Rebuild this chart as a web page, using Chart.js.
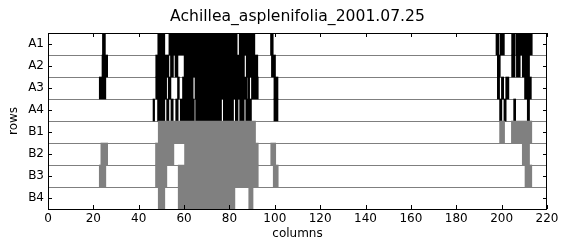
<!doctype html>
<html lang="en">
<head>
    <meta charset="utf-8">
    <title>Achillea_asplenifolia_2001.07.25</title>
    <script src="https://cdn.jsdelivr.net/npm/chart.js"></script>
    <style>
        body { margin: 0; background: white; }
        .chartCard { width: 566px; height: 244px; }
    </style>
</head>
<body>
<div class="chartCard">
    <canvas id="myChart" width="566" height="244"></canvas>
</div>
<script>
    // row labels and x tick range
    const rows = ['A1', 'A2', 'A3', 'A4', 'B1', 'B2', 'B3', 'B4'];
    const xTicks = [0, 20, 40, 60, 80, 100, 120, 140, 160, 180, 200, 220];
    const chartTitle = 'Achillea_asplenifolia_2001.07.25';

    // filled column spans per row, [start, end]
    const segA1 = [[24, 25.3], [48.4, 51.5], [53.3, 83.4], [84.3, 91.2], [98.1, 99.3],
        [197.5, 198.8], [199.3, 201.2], [204.4, 205.9], [206.3, 213.5]];
    const segA2 = [[23.8, 26.3], [47.5, 53.3], [54, 55.3], [56, 57.3], [60, 86.6], [87.4, 92.5],
        [98.5, 100.3], [198.1, 199.4], [204.4, 205.9], [206.5, 208.2], [209.1, 212.3]];
    const segA3 = [[22.6, 25.5], [47.5, 52.3], [53, 54.2], [57.1, 57.9], [59.3, 64], [64.8, 87.6],
        [88, 88.9], [89.7, 92.7], [99.6, 101.4], [198.1, 199.1], [199.9, 200.9], [201.8, 203.2],
        [210.1, 213.1]];
    const segA4 = [[46.3, 47], [48.3, 51.5], [52.3, 53.3], [54.2, 55.2], [56.3, 57.4], [58.3, 64.5],
        [65.1, 76.5], [77.3, 81.8], [82.6, 83.8], [84.5, 86.5], [87.2, 89.7], [99.6, 101.4],
        [199.1, 200.1], [201, 202], [205.3, 206.2], [211.3, 212.3]];
    const segB1 = [[48.6, 91.5], [199.1, 201.3], [204.3, 213.3]];
    const segB2 = [[23.3, 26.3], [47.4, 55.5], [60.2, 92.7], [98.2, 100.4], [209.1, 212.3]];
    const segB3 = [[22.6, 25.5], [47.4, 52.4], [57.4, 92.7], [99.3, 101.5], [210.3, 213.3]];
    const segB4 = [[48.6, 51.5], [57.4, 82.4], [88.5, 90.4]];

    const rowColors = ['#000000', '#000000', '#000000', '#000000',
        '#808080', '#808080', '#808080', '#808080'];

    const allSegs = [segA1, segA2, segA3, segA4, segB1, segB2, segB3, segB4];
    const maxSeg = Math.max(...allSegs.map(s => s.length));

    const datasets = [];
    for (let k = 0; k < maxSeg; k++) {
        datasets.push({
            data: allSegs.map(s => s[k] ? s[k] : null),
            backgroundColor: rowColors,
            borderWidth: 0,
            grouped: false,
            barPercentage: 1,
            categoryPercentage: 1
        });
    }

    // frame + inward tick marks + title centred over the plot, like the original
    const framePlugin = {
        id: 'frame',
        afterDatasetsDraw: (chart) => {
            const ctx = chart.ctx;
            const a = chart.chartArea;
            const xs = chart.scales.x;
            const ys = chart.scales.y;
            ctx.save();
            ctx.strokeStyle = 'black';
            ctx.lineWidth = 1;
            ctx.beginPath();
            xTicks.forEach(v => {
                const px = Math.round(xs.getPixelForValue(v)) + 0.5;
                ctx.moveTo(px, a.bottom); ctx.lineTo(px, a.bottom - 4);
                ctx.moveTo(px, a.top); ctx.lineTo(px, a.top + 4);
            });
            rows.forEach((r, i) => {
                const py = Math.round(ys.getPixelForValue(i)) + 0.5;
                ctx.moveTo(a.left, py); ctx.lineTo(a.left + 4, py);
                ctx.moveTo(a.right, py); ctx.lineTo(a.right - 4, py);
            });
            ctx.stroke();
            ctx.strokeRect(Math.round(a.left) + 0.5, Math.round(a.top) + 0.5,
                Math.round(a.right - a.left) - 1, Math.round(a.bottom - a.top));

            ctx.fillStyle = 'black';
            ctx.font = '15.6px "DejaVu Sans"';
            ctx.textAlign = 'center';
            ctx.textBaseline = 'middle';
            ctx.fillText(chartTitle, (a.left + a.right) / 2, 17);
            ctx.restore();
        }
    };

    const font = { family: 'DejaVu Sans', size: 12 };

    new Chart(document.getElementById('myChart'), {
        type: 'bar',
        data: { labels: rows, datasets: datasets },
        plugins: [framePlugin],
        options: {
            indexAxis: 'y',
            responsive: false,
            animation: false,
            layout: { padding: { left: 0, right: 19, top: 33, bottom: 0 } },
            plugins: {
                legend: { display: false },
                tooltip: { enabled: false },
                title: { display: false }
            },
            scales: {
                x: {
                    type: 'linear',
                    min: 0,
                    max: 220,
                    afterFit: (s) => { s.height = 35; },
                    afterBuildTicks: (s) => { s.ticks = xTicks.map(v => ({ value: v })); },
                    ticks: { color: 'black', font: font, padding: 3, maxRotation: 0 },
                    grid: { drawOnChartArea: false, drawTicks: false },
                    border: { display: false },
                    title: { display: true, text: 'columns', color: 'black', font: font,
                        padding: { top: 0, bottom: 3 } }
                },
                y: {
                    type: 'category',
                    afterFit: (s) => { s.width = 48; },
                    ticks: { color: 'black', font: font, padding: 4 },
                    grid: { color: '#7f7f7f', lineWidth: 1, drawTicks: false, offset: true },
                    border: { display: false },
                    title: { display: true, text: 'rows', color: 'black', font: font,
                        padding: { top: 7, bottom: 0 } }
                }
            }
        }
    });
</script>
</body>
</html>
